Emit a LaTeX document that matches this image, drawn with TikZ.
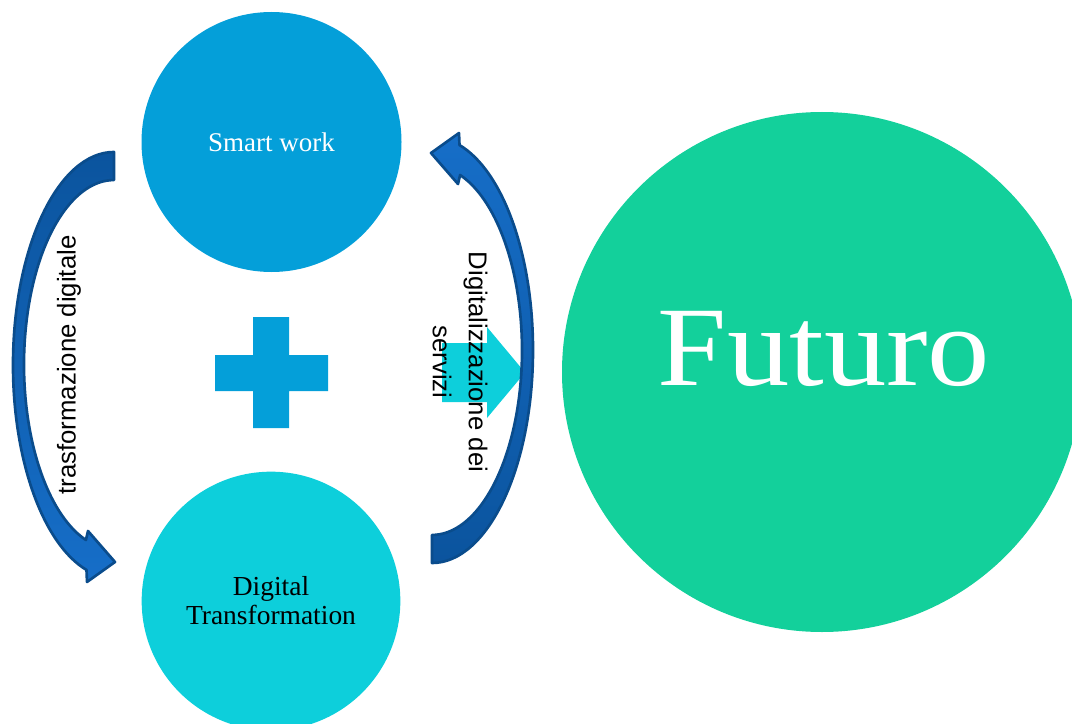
\documentclass[tikz,border=0pt]{standalone}
\usepackage{fontspec}
\setmainfont{Liberation Serif}
\newfontfamily\arialf{Liberation Sans}
\definecolor{smartblue}{RGB}{4,159,217}
\definecolor{dtcyan}{RGB}{13,207,219}
\definecolor{futgreen}{RGB}{19,208,155}
\definecolor{arrdark}{RGB}{11,84,158}
\definecolor{arrlight}{RGB}{22,110,200}
\definecolor{arredge}{RGB}{10,76,140}
\begin{document}
\begin{tikzpicture}[x=0.75pt,y=-0.75pt,
  bubble/.style={circle, inner sep=0pt, draw=none},
  curvarrow/.style={draw=arredge, line width=2pt, line join=round},
  sidelabel/.style={font=\arialf\fontsize{19.3pt}{27pt}\selectfont, align=center, inner sep=0pt}]
\useasboundingbox (0,0) rectangle (1072,724);
\clip (0,0) rectangle (1072,724);
\node[bubble, fill=smartblue, minimum size=195pt, text=white, font=\fontsize{20.25pt}{24pt}\selectfont] (smart) at (271.5,142) {Smart work};
\node[bubble, fill=dtcyan, minimum size=194pt, align=center, font=\fontsize{20.6pt}{21.75pt}\selectfont] (dt) at (271,601) {Digital\\Transformation};
\node[bubble, fill=futgreen, minimum size=390pt] (futuro) at (822,372) {};
\node[anchor=base, text=white, font=\fontsize{85pt}{90pt}\selectfont, xscale=1.1, inner sep=0pt] (futtxt) at (824,385) {Futuro};
% plus sign
\fill[smartblue] (253,317) -- (289,317) -- (289,355) -- (328,355) -- (328,391) -- (289,391) -- (289,428) -- (253,428) -- (253,391) -- (215,391) -- (215,355) -- (253,355) -- cycle;
% cyan block arrow
\fill[dtcyan] (442,343) -- (487,343) -- (487,327) -- (525,372.5) -- (487,418) -- (487,402) -- (442,402) -- cycle;
% left curved arrow
\path[curvarrow, top color=arrdark, bottom color=arrlight] (114,152) arc[start angle=-90, end angle=-254.2, x radius=101, y radius=213] -- (87,582) -- (115,562) -- (88,531) -- (85.9,540) arc[start angle=108.2, end angle=270, x radius=90, y radius=184.6] -- cycle;
% right curved arrow
\path[curvarrow, top color=arrlight, bottom color=arrdark] (432,563) arc[start angle=90, end angle=-74.2, x radius=101, y radius=213] -- (459,133) -- (431,153) -- (458,184) -- (460.1,175) arc[start angle=288.2, end angle=450, x radius=90, y radius=184.6] -- cycle;
\node[sidelabel, rotate=90] (lbl1) at (69,365) {trasformazione digitale};
\node[sidelabel, rotate=-90] (lbl2) at (460,362) {Digitalizzazione dei\\servizi};
\end{tikzpicture}
\end{document}
